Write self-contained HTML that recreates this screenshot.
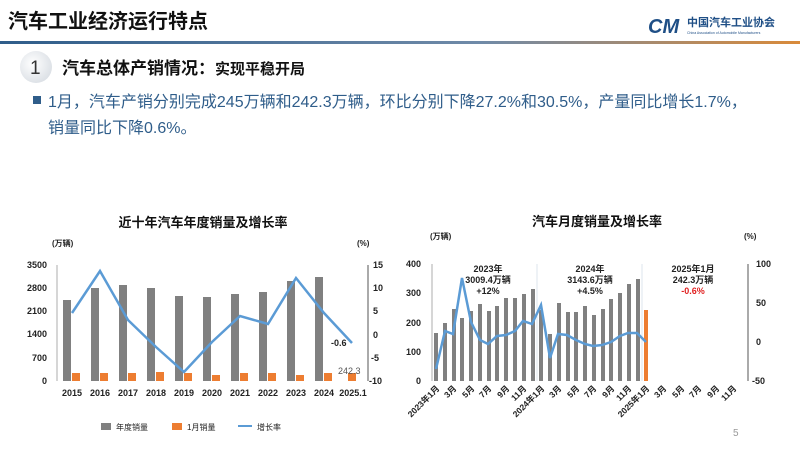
<!DOCTYPE html>
<html><head><meta charset="utf-8"><style>
body{margin:0;width:800px;height:452px;overflow:hidden;background:#fff;font-family:"Liberation Sans","Noto Sans CJK SC",sans-serif;}
svg{display:block}
</style></head><body>
<svg width="800" height="452" viewBox="0 0 800 452" xmlns="http://www.w3.org/2000/svg" font-family="Liberation Sans, Noto Sans CJK SC, sans-serif">
<defs>
<linearGradient id="hl" x1="0" x2="1"><stop offset="0" stop-color="#2f5d8a"/><stop offset="0.6" stop-color="#6f8aa8"/><stop offset="1" stop-color="#d98a3a"/></linearGradient>
<radialGradient id="cg" cx="0.4" cy="0.4" r="0.7"><stop offset="0" stop-color="#fff"/><stop offset="1" stop-color="#d8dde3"/></radialGradient>
</defs>
<text x="8" y="28" font-size="20" font-weight="bold" fill="#111">汽车工业经济运行特点</text>
<rect x="0" y="41" width="800" height="3" fill="url(#hl)"/>
<text x="648" y="33" font-size="20" font-weight="bold" font-style="italic" fill="#1f4f86">CM</text>
<text x="687" y="26" font-size="11" font-weight="bold" fill="#1f4f86">中国汽车工业协会</text>
<text x="687" y="34" font-size="3.5" fill="#1f4f86">China Association of Automobile Manufacturers</text>
<circle cx="36" cy="67" r="16" fill="url(#cg)"/>
<text x="30" y="74" font-size="19" fill="#333">1</text>
<text x="62" y="74" font-size="17" font-weight="bold" fill="#111">汽车总体产销情况：<tspan font-size="15">实现平稳开局</tspan></text>
<rect x="33" y="96" width="8" height="8" fill="#2f5d8a"/>
<text x="48" y="107" font-size="16" fill="#2f5d8a">1月，汽车产销分别完成245万辆和242.3万辆，环比分别下降27.2%和30.5%，产量同比增长1.7%，</text>
<text x="48" y="133" font-size="16" fill="#2f5d8a">销量同比下降0.6%。</text>

<!-- left chart -->
<text x="203" y="227" font-size="13" font-weight="bold" fill="#111" text-anchor="middle">近十年汽车年度销量及增长率</text>
<text x="52" y="246" font-size="8" font-weight="bold" fill="#222">(万辆)</text>
<text x="357" y="246" font-size="8" font-weight="bold" fill="#222">(%)</text>
<g font-size="9" font-weight="bold" fill="#222" text-anchor="end">
<text x="47" y="268">3500</text><text x="47" y="291">2800</text><text x="47" y="314">2100</text><text x="47" y="337">1400</text><text x="47" y="361">700</text><text x="47" y="384">0</text>
</g>
<g font-size="9" font-weight="bold" fill="#222">
<text x="373" y="268">15</text><text x="373" y="291">10</text><text x="373" y="314">5</text><text x="373" y="338">0</text><text x="371" y="361">-5</text><text x="369" y="384">-10</text>
</g>
<line x1="57" y1="265" x2="57" y2="381" stroke="#999" stroke-width="0.8"/>
<line x1="368" y1="265" x2="368" y2="381" stroke="#555" stroke-width="1"/>
<g fill="#808080">
<rect x="63" y="300" width="8" height="81"/><rect x="91" y="288" width="8" height="93"/><rect x="119" y="285" width="8" height="96"/><rect x="147" y="288" width="8" height="93"/><rect x="175" y="296" width="8" height="85"/><rect x="203" y="297" width="8" height="84"/><rect x="231" y="294" width="8" height="87"/><rect x="259" y="292" width="8" height="89"/><rect x="287" y="281" width="8" height="100"/><rect x="315" y="277" width="8" height="104"/>
</g>
<g fill="#ed7d31">
<rect x="72" y="373" width="8" height="8"/><rect x="100" y="373" width="8" height="8"/><rect x="128" y="373" width="8" height="8"/><rect x="156" y="372" width="8" height="9"/><rect x="184" y="373" width="8" height="8"/><rect x="212" y="375" width="8" height="6"/><rect x="240" y="373" width="8" height="8"/><rect x="268" y="373" width="8" height="8"/><rect x="296" y="375" width="8" height="6"/><rect x="324" y="373" width="8" height="8"/><rect x="348" y="373" width="8" height="8"/>
</g>
<polyline fill="none" stroke="#5b9bd5" stroke-width="2.5" points="72,313 100,271 128,320 156,347 184,372 212,342 240,316 268,324 296,278 324,313 352,343"/>
<text x="331" y="346" font-size="9" font-weight="bold" fill="#222">-0.6</text>
<text x="338" y="374" font-size="9" fill="#555">242.3</text>
<g font-size="9" font-weight="bold" fill="#222" text-anchor="middle">
<text x="72" y="396">2015</text><text x="100" y="396">2016</text><text x="128" y="396">2017</text><text x="156" y="396">2018</text><text x="184" y="396">2019</text><text x="212" y="396">2020</text><text x="240" y="396">2021</text><text x="268" y="396">2022</text><text x="296" y="396">2023</text><text x="324" y="396">2024</text><text x="353" y="396">2025.1</text>
</g>
<rect x="101" y="423" width="10" height="7" fill="#808080"/><text x="116" y="430" font-size="8" fill="#222">年度销量</text>
<rect x="172" y="423" width="10" height="7" fill="#ed7d31"/><text x="187" y="430" font-size="8" fill="#222">1月销量</text>
<line x1="238" y1="426" x2="252" y2="426" stroke="#5b9bd5" stroke-width="2"/><text x="257" y="430" font-size="8" fill="#222">增长率</text>

<!-- right chart -->
<text x="597" y="226" font-size="13" font-weight="bold" fill="#111" text-anchor="middle">汽车月度销量及增长率</text>
<text x="430" y="239" font-size="8" font-weight="bold" fill="#222">(万辆)</text>
<text x="744" y="239" font-size="8" font-weight="bold" fill="#222">(%)</text>
<g font-size="9" font-weight="bold" fill="#222" text-anchor="end">
<text x="421" y="267">400</text><text x="421" y="296">300</text><text x="421" y="326">200</text><text x="421" y="355">100</text><text x="421" y="384">0</text>
</g>
<g font-size="9" font-weight="bold" fill="#222">
<text x="756" y="267">100</text><text x="756" y="306">50</text><text x="756" y="345">0</text><text x="752" y="384">-50</text>
</g>
<line x1="432" y1="264" x2="432" y2="381" stroke="#999" stroke-width="0.8"/>
<line x1="748" y1="264" x2="748" y2="381" stroke="#555" stroke-width="1"/>
<line x1="537" y1="264" x2="537" y2="381" stroke="#c8d4e0" stroke-width="0.6"/>
<line x1="642" y1="264" x2="642" y2="381" stroke="#c8d4e0" stroke-width="0.6"/>
<g fill="#808080">
<rect x="434" y="333" width="4" height="48"/><rect x="443" y="323" width="4" height="58"/><rect x="452" y="309" width="4" height="72"/><rect x="460" y="318" width="4" height="63"/><rect x="469" y="311" width="4" height="70"/><rect x="478" y="304" width="4" height="77"/><rect x="487" y="311" width="4" height="70"/><rect x="495" y="306" width="4" height="75"/><rect x="504" y="298" width="4" height="83"/><rect x="513" y="298" width="4" height="83"/><rect x="522" y="294" width="4" height="87"/><rect x="531" y="289" width="4" height="92"/>
<rect x="539" y="310" width="4" height="71"/><rect x="548" y="334" width="4" height="47"/><rect x="557" y="303" width="4" height="78"/><rect x="566" y="312" width="4" height="69"/><rect x="574" y="312" width="4" height="69"/><rect x="583" y="306" width="4" height="75"/><rect x="592" y="315" width="4" height="66"/><rect x="601" y="309" width="4" height="72"/><rect x="609" y="299" width="4" height="82"/><rect x="618" y="293" width="4" height="88"/><rect x="627" y="284" width="4" height="97"/><rect x="636" y="279" width="4" height="102"/>
</g>
<rect x="644" y="310" width="4" height="71" fill="#ed7d31"/>
<polyline fill="none" stroke="#5b9bd5" stroke-width="2.5" points="436,369 445,331 453,334 462,278 471,322 480,340 488,344 497,336 506,335 515,331 523,321 532,324 541,305 550,358 558,334 567,335 576,340 585,344 593,346 602,345 611,342 620,336 628,333 637,333 646,342"/>
<g font-size="9" font-weight="bold" fill="#222" text-anchor="middle">
<text x="488" y="272">2023年</text><text x="488" y="283">3009.4万辆</text><text x="488" y="294">+12%</text>
<text x="590" y="272">2024年</text><text x="590" y="283">3143.6万辆</text><text x="590" y="294">+4.5%</text>
<text x="693" y="272">2025年1月</text><text x="693" y="283">242.3万辆</text><text x="693" y="294" fill="#e02020">-0.6%</text>
</g>
<g font-size="8.5" font-weight="bold" fill="#222" text-anchor="end">
<text transform="translate(440,389) rotate(-45)">2023年1月</text>
<text transform="translate(457,389) rotate(-45)">3月</text>
<text transform="translate(475,389) rotate(-45)">5月</text>
<text transform="translate(492,389) rotate(-45)">7月</text>
<text transform="translate(510,389) rotate(-45)">9月</text>
<text transform="translate(527,389) rotate(-45)">11月</text>
<text transform="translate(545,389) rotate(-45)">2024年1月</text>
<text transform="translate(562,389) rotate(-45)">3月</text>
<text transform="translate(580,389) rotate(-45)">5月</text>
<text transform="translate(597,389) rotate(-45)">7月</text>
<text transform="translate(615,389) rotate(-45)">9月</text>
<text transform="translate(632,389) rotate(-45)">11月</text>
<text transform="translate(650,389) rotate(-45)">2025年1月</text>
<text transform="translate(667,389) rotate(-45)">3月</text>
<text transform="translate(685,389) rotate(-45)">5月</text>
<text transform="translate(702,389) rotate(-45)">7月</text>
<text transform="translate(720,389) rotate(-45)">9月</text>
<text transform="translate(737,389) rotate(-45)">11月</text>
</g>
<text x="733" y="436" font-size="10" fill="#999">5</text>
</svg>
</body></html>
